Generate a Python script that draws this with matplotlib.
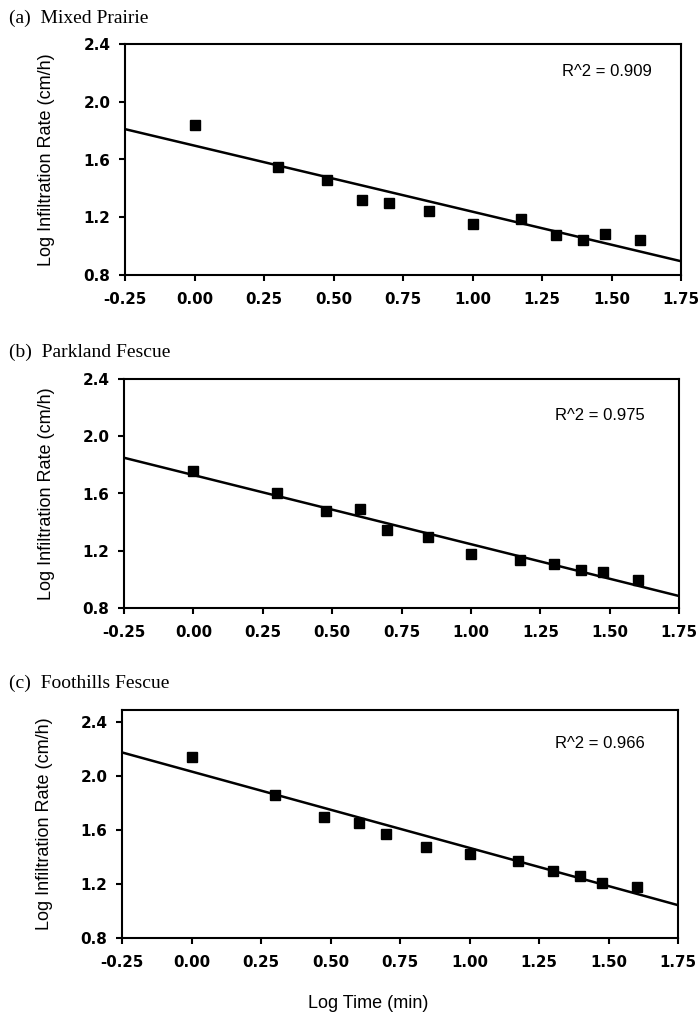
import matplotlib
matplotlib.use("Agg")
import matplotlib.pyplot as plt
import numpy as np

# ---- data ----
log_time = [0.0, 0.301, 0.477, 0.602, 0.699, 0.845, 1.0, 1.176, 1.301, 1.398, 1.477, 1.602]

panel_titles = ["(a)  Mixed Prairie", "(b)  Parkland Fescue", "(c)  Foothills Fescue"]

rate_mixed = [1.84, 1.55, 1.46, 1.32, 1.30, 1.24, 1.155, 1.185, 1.08, 1.04, 1.084, 1.043]
rate_parkland = [1.754, 1.60, 1.48, 1.495, 1.345, 1.296, 1.18, 1.134, 1.105, 1.065, 1.05, 0.999]
rate_foothills = [2.145, 1.86, 1.70, 1.65, 1.573, 1.477, 1.42, 1.368, 1.298, 1.261, 1.205, 1.176]

fit_intercept = [1.696, 1.729, 2.034]
fit_slope = [-0.4575, -0.483, -0.566]
r2_labels = ["R^2 = 0.909", "R^2 = 0.975", "R^2 = 0.966"]

x_ticks = [-0.25, 0.00, 0.25, 0.50, 0.75, 1.00, 1.25, 1.50, 1.75]
y_ticks = [0.8, 1.2, 1.6, 2.0, 2.4]
y_top = [2.4, 2.4, 2.49]

series = [rate_mixed, rate_parkland, rate_foothills]

# ---- layout (pixels in a 698x1022 figure) ----
W, H = 698, 1022
boxes = [(125, 681, 44, 275), (124, 679, 379, 608), (122, 678, 710, 938)]
title_y = [18, 352, 683]
r2_pos = [(607, 71), (600, 415), (600, 744)]
ylabel_x = [47, 47, 45]

fig = plt.figure(figsize=(W / 100, H / 100), dpi=100)

tick_font = "DejaVu Sans"
sans = "Liberation Sans"
serif = "Liberation Serif"

for i in range(3):
    l, r, t, b = boxes[i]
    ax = fig.add_axes([l / W, 1 - b / H, (r - l) / W, (b - t) / H])
    ax.plot(log_time, series[i], linestyle="none", marker="s", markersize=7.5,
            color="black", markeredgecolor="black")
    xs = np.array([-0.25, 1.75])
    ax.plot(xs, fit_intercept[i] + fit_slope[i] * xs, color="black", lw=1.8,
            solid_capstyle="butt")
    ax.set_xlim(-0.25, 1.75)
    ax.set_ylim(0.8, y_top[i])
    ax.set_xticks(x_ticks)
    ax.set_xticklabels([f"{v:.2f}" for v in x_ticks], fontfamily=tick_font,
                       fontweight="bold", fontsize=10.8)
    ax.set_yticks(y_ticks)
    ax.set_yticklabels([f"{v:.1f}" for v in y_ticks], fontfamily=tick_font,
                       fontweight="bold", fontsize=11)
    ax.tick_params(axis="both", direction="out", length=4.5, width=1.5,
                   color="black", pad=6)
    ax.tick_params(axis="x", pad=7.5)
    for s in ax.spines.values():
        s.set_linewidth(1.5)
        s.set_color("black")
    rx, ry = r2_pos[i]
    fig.text(rx / W, 1 - ry / H, r2_labels[i], ha="center", va="center",
             fontfamily=sans, fontsize=12)
    fig.text(9 / W, 1 - title_y[i] / H, panel_titles[i], ha="left", va="center",
             fontfamily=serif, fontsize=14)
    fig.text(ylabel_x[i] / W, 1 - ((t + b) / 2) / H, "Log Infiltration Rate (cm/h)",
             rotation=90, ha="center", va="center", fontfamily=sans, fontsize=13)

fig.text(368 / W, 1 - 1003 / H, "Log Time (min)", ha="center", va="center",
         fontfamily=sans, fontsize=13)

fig.savefig("out.png", dpi=100, facecolor="white")
